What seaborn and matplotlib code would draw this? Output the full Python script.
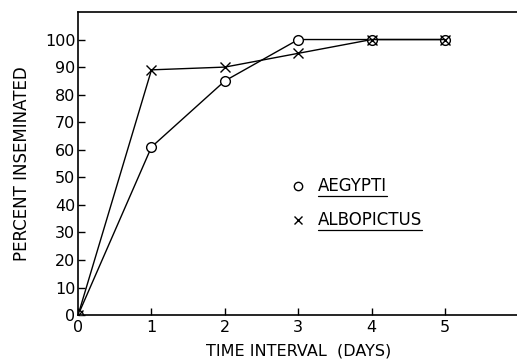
import matplotlib
matplotlib.use("Agg")
import matplotlib.pyplot as plt
import seaborn as sns
import pandas as pd

days = [0, 1, 2, 3, 4, 5]
aegypti = [0, 61, 85, 100, 100, 100]
albopictus = [0, 89, 90, 95, 100, 100]
x_ticks = [0, 1, 2, 3, 4, 5]
y_ticks = [0, 10, 20, 30, 40, 50, 60, 70, 80, 90, 100]

sns.set_style("ticks")
plt.rcParams['font.family'] = ['DejaVu Sans']
plt.rcParams['text.color'] = 'black'
plt.rcParams['axes.labelcolor'] = 'black'
plt.rcParams['xtick.color'] = 'black'
plt.rcParams['ytick.color'] = 'black'

fig = plt.figure(figsize=(5.17, 3.63), dpi=100)
ax = fig.add_axes([0.151, 0.132, 0.852, 0.835])

df = pd.DataFrame({"day": days + days,
                   "pct": aegypti + albopictus,
                   "species": ["AEGYPTI"] * len(days) + ["ALBOPICTUS"] * len(days)})

sns.lineplot(data=df[df.species == "AEGYPTI"], x="day", y="pct", ax=ax, color="black",
             lw=1.0, marker="o", markersize=7, markerfacecolor="white",
             markeredgecolor="black", markeredgewidth=1.0)
sns.lineplot(data=df[df.species == "ALBOPICTUS"], x="day", y="pct", ax=ax, color="black",
             lw=1.0, marker="x", markersize=7, markeredgewidth=1.0,
             markeredgecolor="black", markerfacecolor="black")

ax.set_xlim(0, 6)
ax.set_ylim(0, 110)
ax.set_xticks(x_ticks)
ax.set_yticks(y_ticks)
ax.tick_params(direction="in", length=5, width=1, labelsize=11.5, color="black", labelcolor="black")
ax.tick_params(axis="y", pad=2)
ax.set_xlabel("TIME INTERVAL  (DAYS)", fontsize=11.5, labelpad=6, color="black")
ax.set_ylabel("PERCENT INSEMINATED", fontsize=12, labelpad=10, color="black")
for s in ["left", "bottom", "top"]:
    ax.spines[s].set_linewidth(1.2)
    ax.spines[s].set_color("black")
ax.spines["right"].set_visible(False)

# legend as text
ax.plot([3.0], [47], marker="o", markersize=6, markerfacecolor="white",
        markeredgecolor="black", color="black", ls="none")
t1 = ax.text(3.27, 47, "AEGYPTI", fontsize=12, va="center", ha="left", color="black")
ax.plot([3.0], [34.5], marker="x", markersize=6, color="black", ls="none")
t2 = ax.text(3.27, 34.5, "ALBOPICTUS", fontsize=12, va="center", ha="left", color="black")

fig.canvas.draw()
r = fig.canvas.get_renderer()
inv = ax.transData.inverted()
for t in (t1, t2):
    bb = t.get_window_extent(r)
    (x0, y0), (x1, _) = inv.transform([(bb.x0, bb.y0 - 1), (bb.x1, bb.y0 - 1)])
    ax.plot([x0, x1], [y0, y0], color="black", lw=0.9)

fig.savefig("out.png", dpi=100)
